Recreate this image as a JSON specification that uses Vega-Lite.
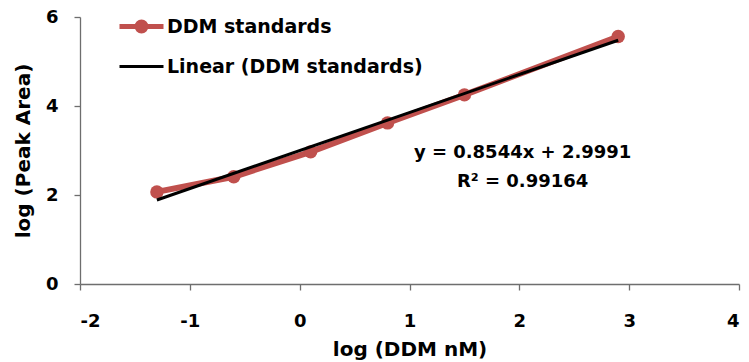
{
  "$schema": "https://vega.github.io/schema/vega-lite/v6.json",
  "width": 659,
  "height": 267,
  "autosize": {"type": "none"},
  "padding": {"left": 80, "top": 17, "right": 10, "bottom": 78},
  "background": "white",
  "config": {
    "font": "DejaVu Sans",
    "view": {"stroke": null},
    "axis": {
      "grid": false,
      "domainColor": "#6e6e6e",
      "domainWidth": 1.3,
      "tickColor": "#6e6e6e",
      "tickWidth": 1.3,
      "tickSize": 6,
      "labelFont": "DejaVu Sans",
      "labelFontWeight": "bold",
      "labelFontSize": 18,
      "labelColor": "black",
      "titleFont": "DejaVu Sans",
      "titleFontWeight": "bold",
      "titleFontSize": 20,
      "titleColor": "black"
    },
    "legend": {
      "labelFont": "DejaVu Sans",
      "labelFontWeight": "bold",
      "labelFontSize": 19,
      "labelColor": "black",
      "labelLimit": 400
    }
  },
  "datasets": {
    "standards": [
      {"logConc": -1.3, "logArea": 2.07, "series": "DDM standards"},
      {"logConc": -0.6, "logArea": 2.41, "series": "DDM standards"},
      {"logConc": 0.1, "logArea": 2.97, "series": "DDM standards"},
      {"logConc": 0.8, "logArea": 3.62, "series": "DDM standards"},
      {"logConc": 1.5, "logArea": 4.25, "series": "DDM standards"},
      {"logConc": 2.9, "logArea": 5.56, "series": "DDM standards"}
    ],
    "trend": [
      {"logConc": -1.3, "logArea": 1.88838, "series": "Linear (DDM standards)"},
      {"logConc": 2.9, "logArea": 5.47686, "series": "Linear (DDM standards)"}
    ],
    "fit": [
      {"logConc": 2.03, "logArea": 2.94, "label": "y = 0.8544x + 2.9991"},
      {"logConc": 2.03, "logArea": 2.29, "label": "R² = 0.99164"}
    ]
  },
  "layer": [
    {
      "data": {"name": "standards"},
      "mark": {"type": "line", "strokeWidth": 6, "strokeCap": "round"},
      "encoding": {
        "x": {
          "field": "logConc",
          "type": "quantitative",
          "scale": {"domain": [-2, 4], "nice": false, "zero": false},
          "axis": {
            "title": "log (DDM nM)",
            "values": [-2, -1, 0, 1, 2, 3, 4],
            "labelExpr": "'' + datum.value",
            "labelPadding": 22,
            "titlePadding": 9
          }
        },
        "y": {
          "field": "logArea",
          "type": "quantitative",
          "scale": {"domain": [0, 6], "nice": false},
          "axis": {
            "title": "log (Peak Area)",
            "values": [0, 2, 4, 6],
            "labelPadding": 16,
            "titlePadding": 12
          }
        },
        "color": {
          "field": "series",
          "type": "nominal",
          "scale": {
            "domain": ["DDM standards", "Linear (DDM standards)"],
            "range": ["#c0504d", "#000000"]
          },
          "legend": {
            "title": null,
            "orient": "none",
            "legendX": 52,
            "legendY": 0,
            "padding": 0,
            "symbolSize": 1936,
            "symbolStrokeWidth": 4,
            "labelOffset": 16,
            "rowPadding": 16,
            "encode": {
              "symbols": {
                "update": {
                  "shape": {"signal": "datum.value === 'DDM standards' ? 'M-1,0H1M-0.2,0A0.2,0.2 0 1,1 0.2,0A0.2,0.2 0 1,1 -0.2,0Z' : 'M-1,0H1'"},
                  "size": {"value": 1936},
                  "strokeWidth": {"signal": "datum.value === 'DDM standards' ? 5 : 3"},
                  "stroke": {"signal": "datum.value === 'DDM standards' ? '#c0504d' : '#000000'"},
                  "fill": {"signal": "datum.value === 'DDM standards' ? '#c0504d' : 'transparent'"},
                  "opacity": {"value": 1}
                }
              }
            }
          }
        }
      }
    },
    {
      "data": {"name": "standards"},
      "mark": {"type": "point", "shape": "circle", "filled": true, "opacity": 1, "size": 180},
      "encoding": {
        "x": {"field": "logConc", "type": "quantitative"},
        "y": {"field": "logArea", "type": "quantitative"},
        "color": {"field": "series", "type": "nominal"}
      }
    },
    {
      "data": {"name": "trend"},
      "mark": {"type": "line", "strokeWidth": 3},
      "encoding": {
        "x": {"field": "logConc", "type": "quantitative"},
        "y": {"field": "logArea", "type": "quantitative"},
        "color": {"field": "series", "type": "nominal"}
      }
    },
    {
      "data": {"name": "fit"},
      "mark": {"type": "text", "font": "DejaVu Sans", "fontWeight": "bold", "fontSize": 18, "fill": "black", "align": "center", "baseline": "middle"},
      "encoding": {
        "x": {"field": "logConc", "type": "quantitative"},
        "y": {"field": "logArea", "type": "quantitative"},
        "text": {"field": "label"}
      }
    }
  ]
}
